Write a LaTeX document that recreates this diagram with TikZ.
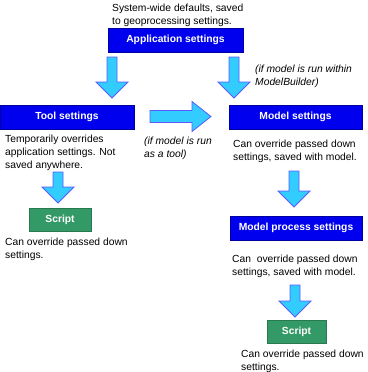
\documentclass[tikz,border=0pt]{standalone}
\usepackage{fontspec}
\setmainfont{Liberation Sans}
\usepackage{tikz}
\usetikzlibrary{positioning}
\usepackage{xcolor}
\definecolor{boxblue}{RGB}{0,0,238}
\definecolor{boxblueedge}{RGB}{0,0,160}
\definecolor{arrowcyan}{RGB}{51,204,255}
\definecolor{arrowedge}{RGB}{90,90,255}
\definecolor{scriptgreen}{RGB}{51,153,102}
\definecolor{scriptedge}{RGB}{40,120,80}
\newcommand{\settingsfont}{\fontsize{10.3}{13}\selectfont}
% block arrow pointing down: centre x, top y, tip y
\newcommand{\vblock}[3]{%
  \filldraw[blockarrow] (#1-5,#2) -- (#1+5,#2) -- (#1+5,#3-16) -- (#1+16,#3-16)
    -- (#1,#3) -- (#1-16,#3-16) -- (#1-5,#3-16) -- cycle;}

\begin{document}
\begin{tikzpicture}[x=1pt, y=-1pt,
    every node/.style={font=\settingsfont, inner sep=0pt},
    bluebox/.style={draw=boxblueedge, fill=boxblue, text=white, font=\settingsfont\bfseries, minimum height=24pt},
    scriptbox/.style={draw=scriptedge, fill=scriptgreen, text=white, font=\settingsfont\bfseries, minimum height=23pt},
    note/.style={anchor=north west, align=left},
    blockarrow/.style={draw=arrowedge, fill=arrowcyan, line width=0.8pt, line join=miter}]
  \useasboundingbox (0,0) rectangle (367,372);
  % boxes
  \node[bluebox, minimum width=135pt] (app) at (175.5,40) {Application settings};
  \node[bluebox, minimum width=134pt] (tool) at (67,117) {Tool settings};
  \node[bluebox, minimum width=133pt] (model) at (295.5,117) {Model settings};
  \node[bluebox, minimum width=132pt] (process) at (296,228) {Model process settings};
  \node[scriptbox, minimum width=62pt] (toolscript) at (60,219.5) {Script};
  \node[scriptbox, minimum width=59pt] (modelscript) at (296.5,331.5) {Script};
  % notes
  \node[note] (appnote) at (112,4) {System-wide defaults, saved\\to geoprocessing settings.};
  \node[note] (toolnote) at (5,135) {Temporarily overrides\\application settings. Not\\saved anywhere.};
  \node[note] (modelnote) at (233,140) {Can override passed down\\settings, saved with model.};
  \node[note] (processnote) at (232,255) {Can\ \ override passed down\\settings, saved with model.};
  \node[note] (toolscriptnote) at (5,238) {Can override passed down\\settings.};
  \node[note] (modelscriptnote) at (241,350) {Can override passed down\\settings.};
  \node[note, font=\settingsfont\itshape] (withinnote) at (255,65) {(if model is run within\\ModelBuilder)};
  \node[note, font=\settingsfont\itshape] (asToolnote) at (144,137) {(if model is run\\as a tool)};
  % arrows
  \vblock{112}{57}{98}
  \vblock{234}{57}{98}
  \vblock{58}{172}{203}
  \vblock{294}{171}{207}
  \vblock{295}{285}{317}
  \filldraw[blockarrow] (150,110.5) -- (192,110.5) -- (192,101.5) -- (211,116.5)
    -- (192,131.5) -- (192,122.5) -- (150,122.5) -- cycle;
\end{tikzpicture}
\end{document}
